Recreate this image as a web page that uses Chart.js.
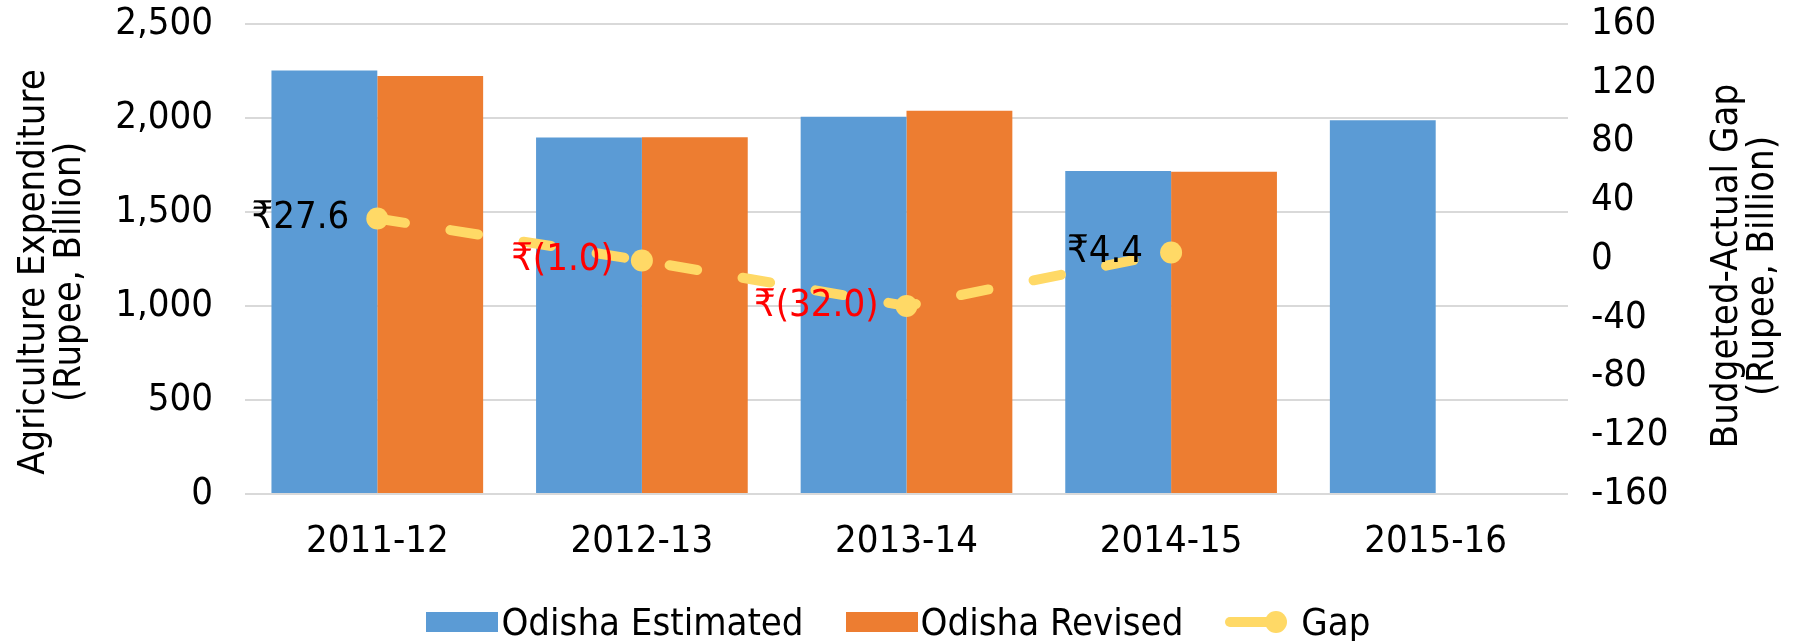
<!DOCTYPE html>
<html>
<head>
<meta charset="utf-8">
<script src="https://cdn.jsdelivr.net/npm/chart.js@4.4.1/dist/chart.umd.min.js"></script>
<style>
  html, body { margin: 0; padding: 0; background: #fff; }
  #wrap { position: relative; width: 1797px; height: 641px; }
  #legend {
    position: absolute; left: 0; right: 0; top: 598px; height: 48px;
    display: flex; justify-content: center; align-items: center;
    font-family: 'DejaVu Sans Condensed', 'DejaVu Sans', sans-serif;
    font-size: 38px; color: #000;
  }
  .item { display: flex; align-items: center; margin: 0 21px; }
  .box { width: 72px; height: 20px; margin-right: 3px; }
</style>
</head>
<body>
<div id="wrap">
  <canvas id="c" width="1797" height="641"></canvas>
  <div id="legend"></div>
</div>
<script>
const years = ['2011-12', '2012-13', '2013-14', '2014-15', '2015-16'];
const estimated = [2252, 1896, 2006, 1718, 1988];
const revised = [2224, 1897, 2038, 1714, null];
const gap = [27.6, -1.0, -32.0, 4.4, null];
const leftTicks = [0, 500, 1000, 1500, 2000, 2500];
const rightTicks = [-160, -120, -80, -40, 0, 40, 80, 120, 160];

const FONT = "'DejaVu Sans Condensed', 'DejaVu Sans', sans-serif";
const SIZE = 38;
const BLUE = '#5B9BD5', ORANGE = '#ED7D31', YELLOW = '#FFD966';
Chart.defaults.font.family = FONT;
Chart.defaults.font.size = SIZE;
Chart.defaults.color = '#000';

function fmtGap(v) {
  return v < 0 ? '\u20B9(' + Math.abs(v).toFixed(1) + ')' : '\u20B9' + v.toFixed(1);
}

// gap labels to the left of each point
const gapLabels = {
  id: 'gapLabels',
  afterDatasetsDraw(chart) {
    const ctx = chart.ctx;
    const meta = chart.getDatasetMeta(2);
    ctx.save();
    ctx.font = SIZE + 'px ' + FONT;
    ctx.textAlign = 'right';
    ctx.textBaseline = 'middle';
    meta.data.forEach((pt, i) => {
      const v = gap[i];
      if (v === null) return;
      ctx.fillStyle = v < 0 ? '#FF0000' : '#000';
      ctx.fillText(fmtGap(v), pt.x - 28, pt.y);
    });
    ctx.restore();
  }
};

// axis titles, both reading bottom to top
const axisTitles = {
  id: 'axisTitles',
  afterDraw(chart) {
    const ctx = chart.ctx;
    ctx.save();
    ctx.font = SIZE + 'px ' + FONT;
    ctx.fillStyle = '#000';
    ctx.textAlign = 'center';
    ctx.textBaseline = 'middle';
    const draw = (lines, x, y) => {
      ctx.save();
      ctx.translate(x, y);
      ctx.rotate(-Math.PI / 2);
      lines.forEach((t, k) => ctx.fillText(t, 0, k * 36));
      ctx.restore();
    };
    draw(['Agriculture Expenditure', '(Rupee, Billion)'], 34, 272);
    draw(['Budgeted-Actual Gap', '(Rupee, Billion)'], 1727, 266);
    ctx.restore();
  }
};

new Chart(document.getElementById('c'), {
  type: 'bar',
  data: {
    labels: years,
    datasets: [
      { label: 'Odisha Estimated', data: estimated, backgroundColor: BLUE, order: 1,
        categoryPercentage: 0.8, barPercentage: 1.0 },
      { label: 'Odisha Revised', data: revised, backgroundColor: ORANGE, order: 1,
        categoryPercentage: 0.8, barPercentage: 1.0 },
      { label: 'Gap', type: 'line', data: gap, yAxisID: 'y1', order: 0,
        borderColor: YELLOW, backgroundColor: YELLOW, borderWidth: 10,
        borderDash: [28, 46], borderCapStyle: 'round', tension: 0,
        pointRadius: 11, pointBorderWidth: 0, pointBackgroundColor: YELLOW }
    ]
  },
  options: {
    responsive: false,
    animation: false,
    layout: { padding: { top: 24, bottom: 0, left: 0, right: 0 } },
    plugins: { legend: { display: false }, tooltip: { enabled: false } },
    scales: {
      x: {
        grid: { display: false }, border: { display: false },
        ticks: { padding: 17 },
        afterFit(s) { s.height = 147; s.paddingLeft = 0; s.paddingRight = 0; }
      },
      y: {
        position: 'left', min: 0, max: 2500,
        afterBuildTicks(s) { s.ticks = leftTicks.map(v => ({ value: v })); },
        ticks: { padding: 32, autoSkip: false, callback: v => v.toLocaleString('en-US') },
        grid: { color: '#D9D9D9', lineWidth: 2, drawTicks: false },
        border: { display: false },
        afterFit(s) { s.width = 245; s.paddingTop = 0; s.paddingBottom = 0; }
      },
      y1: {
        position: 'right', min: -160, max: 160,
        afterBuildTicks(s) { s.ticks = rightTicks.map(v => ({ value: v })); },
        ticks: { padding: 23, autoSkip: false },
        grid: { display: false, drawTicks: false },
        border: { display: false },
        afterFit(s) { s.width = 229; s.paddingTop = 0; s.paddingBottom = 0; }
      }
    }
  },
  plugins: [gapLabels, axisTitles]
});

// legend
const legend = document.getElementById('legend');
[['Odisha Estimated', BLUE, 'box'], ['Odisha Revised', ORANGE, 'box'], ['Gap', YELLOW, 'line']].forEach(([name, col, kind]) => {
  const it = document.createElement('div');
  it.className = 'item';
  if (kind === 'box') {
    it.innerHTML = '<div class="box" style="background:' + col + '"></div><span>' + name + '</span>';
  } else {
    it.innerHTML = '<svg width="66" height="24" style="margin-right:10px"><line x1="5" y1="12" x2="44" y2="12" stroke="' + col +
      '" stroke-width="10" stroke-linecap="round"/><circle cx="51" cy="12" r="11" fill="' + col + '"/></svg><span>' + name + '</span>';
  }
  legend.appendChild(it);
});
</script>
</body>
</html>
